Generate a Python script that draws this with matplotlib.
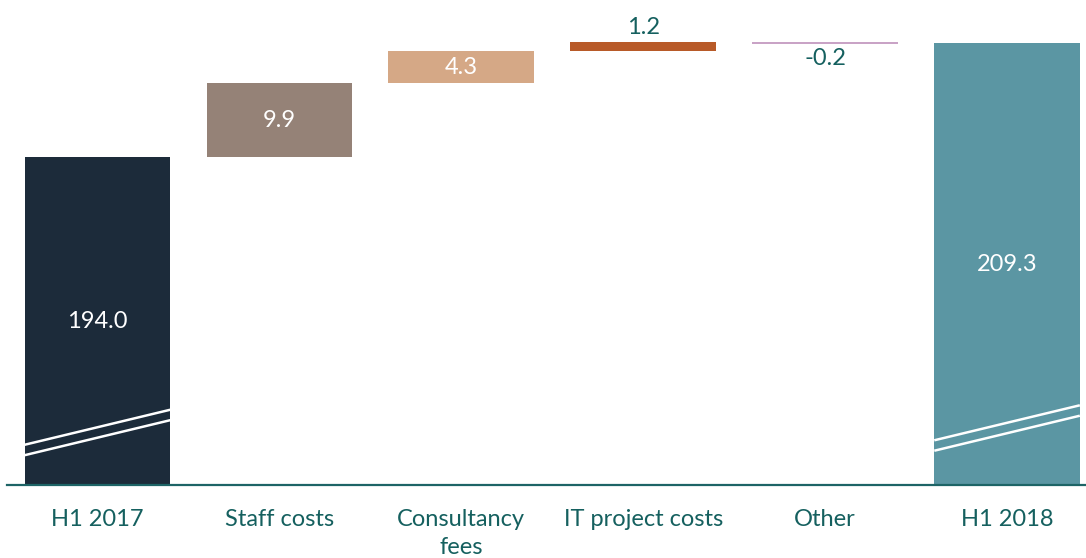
import numpy as np
import matplotlib
matplotlib.use("Agg")
import matplotlib.pyplot as plt

# waterfall data (EUR m)
categories = ["H1 2017", "Staff costs", "Consultancy\nfees", "IT project costs", "Other", "H1 2018"]
start_value = 194.0
deltas = [9.9, 4.3, 1.2, -0.2]
end_value = 209.3
bar_colors = ["#1c2b3a", "#958277", "#d5a886", "#b85a28", "#c9a3c6", "#5b96a3"]
value_labels = ["194.0", "9.9", "4.3", "1.2", "-0.2", "209.3"]

Y_MIN = 150.0      # broken axis: bars start here
Y_MAX = 215.1
TEXT_COL = "#15605f"
FS = 17

plt.rcParams["font.family"] = ["Lato", "DejaVu Sans"]

fig = plt.figure(figsize=(10.86, 5.58), dpi=100)
ax = fig.add_axes([7 / 1086, 73 / 558, 1 - 7 / 1086, 1 - 73 / 558])

x = np.arange(len(categories))
width = 0.8

# bottoms and heights
bottoms = [Y_MIN]
heights = [start_value - Y_MIN]
running = start_value
for d in deltas:
    if d >= 0:
        bottoms.append(running)
        heights.append(d)
    else:
        bottoms.append(running + d)
        heights.append(-d)
    running += d
bottoms.append(Y_MIN)
heights.append(end_value - Y_MIN)

ax.bar(x, heights, bottom=bottoms, width=width, color=bar_colors, linewidth=0)

# value labels
for i, (b, h, lab) in enumerate(zip(bottoms, heights, value_labels)):
    if i == 3:
        ax.text(x[i], b + h + 0.6, lab, ha="center", va="bottom", fontsize=FS, color=TEXT_COL)
    elif i == 4:
        ax.text(x[i], b - 0.6, lab, ha="center", va="top", fontsize=FS, color=TEXT_COL)
    else:
        ax.text(x[i], b + h / 2, lab, ha="center", va="center", fontsize=FS, color="white")

# axis break marks on the total bars
for xi, y0 in [(x[0], 154.0), (x[5], 154.6)]:
    for off in (0.0, 1.4):
        ax.plot([xi - width / 2, xi + width / 2], [y0 + off, y0 + off + 4.7],
                color="white", lw=1.8, solid_capstyle="butt")

ax.set_xlim(-0.497, 5.434)
ax.set_ylim(Y_MIN, Y_MAX)
ax.set_xticks(x)
ax.set_xticklabels(categories, fontsize=FS, color=TEXT_COL, linespacing=1.45)
ax.tick_params(axis="x", length=0, pad=17)
ax.set_yticks([])
for s in ("top", "right", "left"):
    ax.spines[s].set_visible(False)
ax.spines["bottom"].set_color("#1d6466")
ax.spines["bottom"].set_linewidth(1.6)

fig.savefig("out.png", dpi=100)
